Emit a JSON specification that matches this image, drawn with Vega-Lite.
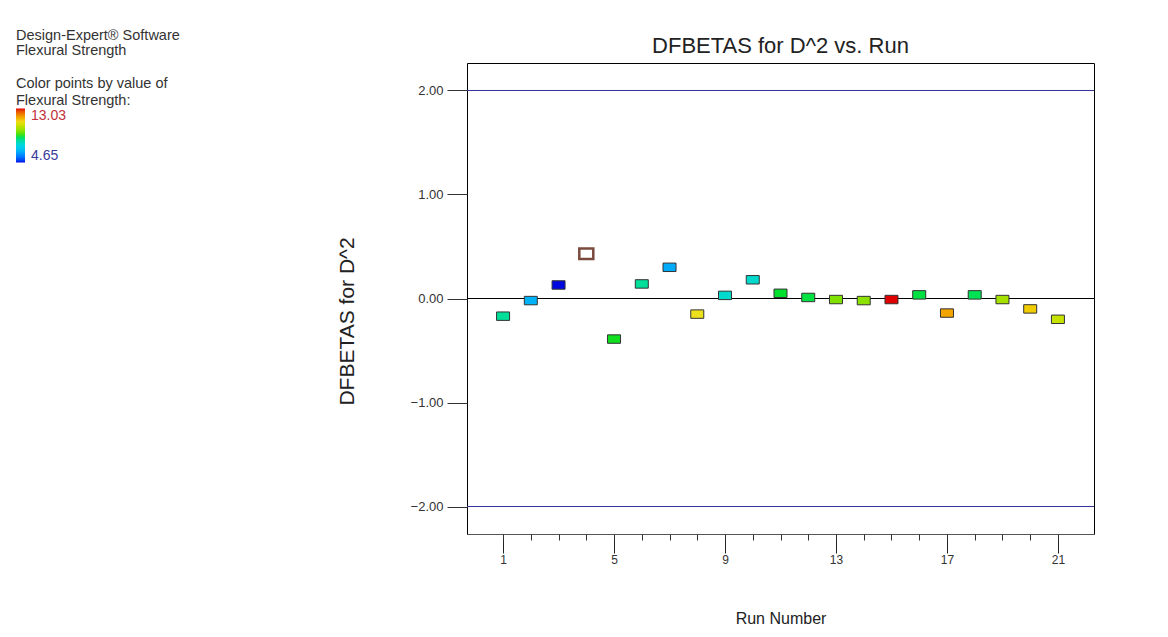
{
  "$schema": "https://vega.github.io/schema/vega-lite/v6.json",
  "width": 627,
  "height": 471,
  "autosize": {"type": "none"},
  "padding": {"left": 467, "top": 63, "right": 74, "bottom": 103},
  "background": "white",
  "title": {
    "text": "DFBETAS for D^2 vs. Run",
    "fontSize": 22,
    "fontWeight": "normal",
    "color": "#222222",
    "anchor": "middle",
    "offset": 7,
    "dy": 36
  },
  "config": {
    "font": "Liberation Sans",
    "view": {"stroke": "#000000", "strokeWidth": 1}
  },
  "datasets": {
    "runs": [
      {"Run": 1, "DFBETAS": -0.17, "Strength": 8.1},
      {"Run": 2, "DFBETAS": -0.02, "Strength": 6.4},
      {"Run": 3, "DFBETAS": 0.13, "Strength": 4.65},
      {"Run": 4, "DFBETAS": 0.43, "Strength": null},
      {"Run": 5, "DFBETAS": -0.39, "Strength": 8.84},
      {"Run": 6, "DFBETAS": 0.14, "Strength": 8.1},
      {"Run": 7, "DFBETAS": 0.30, "Strength": 6.3},
      {"Run": 8, "DFBETAS": -0.15, "Strength": 10.9},
      {"Run": 9, "DFBETAS": 0.03, "Strength": 7.6},
      {"Run": 10, "DFBETAS": 0.18, "Strength": 7.6},
      {"Run": 11, "DFBETAS": 0.05, "Strength": 8.8},
      {"Run": 12, "DFBETAS": 0.01, "Strength": 8.7},
      {"Run": 13, "DFBETAS": -0.01, "Strength": 9.5},
      {"Run": 14, "DFBETAS": -0.02, "Strength": 9.6},
      {"Run": 15, "DFBETAS": -0.01, "Strength": 13.03},
      {"Run": 16, "DFBETAS": 0.035, "Strength": 8.7},
      {"Run": 17, "DFBETAS": -0.14, "Strength": 11.7},
      {"Run": 18, "DFBETAS": 0.035, "Strength": 8.6},
      {"Run": 19, "DFBETAS": -0.01, "Strength": 9.9},
      {"Run": 20, "DFBETAS": -0.10, "Strength": 11.2},
      {"Run": 21, "DFBETAS": -0.20, "Strength": 10.3}
    ],
    "limits": [{"level": 2}, {"level": -2}],
    "baseline": [{"level": 0}]
  },
  "layer": [
    {
      "data": {"name": "limits"},
      "mark": {"type": "rule", "color": "#333399", "strokeWidth": 1},
      "encoding": {
        "y": {"field": "level", "type": "quantitative", "scale": {"domain": [-2.2644, 2.2644], "nice": false, "zero": false}},
        "strokeDash": {
          "datum": "limit",
          "type": "nominal",
          "scale": {"range": [[1, 0]]},
          "legend": {
            "orient": "none",
            "legendX": -451,
            "legendY": -34,
            "title": ["Design-Expert® Software", "Flexural Strength"],
            "titleFontSize": 14.5,
            "titleFontWeight": "normal",
            "titleColor": "#333333",
            "titleLineHeight": 15,
            "titlePadding": 0,
            "symbolOpacity": 0,
            "symbolStrokeWidth": 0,
            "labelOpacity": 0,
            "labelFontSize": 1
          }
        }
      }
    },
    {
      "data": {"name": "baseline"},
      "mark": {"type": "rule", "color": "#000000", "strokeWidth": 1},
      "encoding": {
        "y": {"field": "level", "type": "quantitative"}
      }
    },
    {
      "data": {"name": "runs"},
      "transform": [{"filter": "datum.Run != 4"}],
      "mark": {
        "type": "point",
        "filled": true,
        "opacity": 1,
        "shape": "M-1,-0.65L1,-0.65L1,0.65L-1,0.65Z",
        "size": 169,
        "stroke": "#333333",
        "strokeWidth": 1
      },
      "encoding": {
        "x": {
          "field": "Run",
          "type": "quantitative",
          "scale": {"domain": [-0.3, 22.3], "nice": false, "zero": false},
          "axis": {
            "orient": "bottom",
            "values": [1, 5, 9, 13, 17, 21],
            "grid": false,
            "domain": true,
            "domainColor": "#555555",
            "tickSize": 19,
            "tickColor": "#222222",
            "labelPadding": 1,
            "labelFontSize": 12,
            "labelColor": "#333333",
            "title": "Run Number",
            "titleFontSize": 16,
            "titleFontWeight": "normal",
            "titleColor": "#222222",
            "titlePadding": 45
          }
        },
        "y": {
          "field": "DFBETAS",
          "type": "quantitative",
          "axis": {
            "values": [-2, -1, 0, 1, 2],
            "format": ".2f",
            "grid": false,
            "domain": false,
            "tickSize": 20,
            "tickColor": "#333333",
            "labelPadding": 4,
            "labelFontSize": 13,
            "labelColor": "#333333",
            "title": "DFBETAS for D^2",
            "titleFontSize": 21,
            "titleFontWeight": "normal",
            "titleColor": "#222222",
            "titleX": -120,
            "titleY": 258,
            "titleBaseline": "middle",
            "titleAlign": "center",
            "titleAngle": -90
          }
        },
        "fill": {
          "field": "Strength",
          "type": "quantitative",
          "scale": {
            "domain": [4.65, 6.75, 8.84, 10.94, 13.03],
            "range": ["#0008e0", "#20c8f0", "#10e020", "#f0e020", "#e00000"]
          },
          "legend": {
            "orient": "none",
            "legendX": -451,
            "legendY": 14,
            "direction": "vertical",
            "gradientLength": 54,
            "gradientThickness": 9,
            "gradientStrokeWidth": 0,
            "values": [4.65, 13.03],
            "format": ".2f",
            "title": ["Color points by value of", "Flexural Strength:"],
            "titleFontSize": 14.5,
            "titleFontWeight": "normal",
            "titleColor": "#333333",
            "titleLineHeight": 17,
            "titlePadding": 0,
            "labelFontSize": 14,
            "labelOffset": 6,
            "labelColor": {"expr": "datum.value > 9 ? '#c0303a' : '#3a3a9a'"}
          }
        }
      }
    },
    {
      "data": {"name": "runs"},
      "transform": [{"filter": "datum.Run == 4"}],
      "mark": {
        "type": "point",
        "filled": true,
        "opacity": 1,
        "fill": "#ffffff",
        "shape": "M-1,-0.75L1,-0.75L1,0.75L-1,0.75Z",
        "size": 196,
        "stroke": "#7a4a3c",
        "strokeWidth": 2.5
      },
      "encoding": {
        "x": {
          "field": "Run",
          "type": "quantitative",
          "axis": {
            "orient": "bottom",
            "values": [1, 2, 3, 4, 5, 6, 7, 8, 9, 10, 11, 12, 13, 14, 15, 16, 17, 18, 19, 20, 21],
            "grid": false,
            "domain": false,
            "labels": false,
            "tickSize": 6,
            "tickColor": "#333333",
            "title": null
          }
        },
        "y": {"field": "DFBETAS", "type": "quantitative"}
      }
    }
  ],
  "resolve": {"axis": {"x": "independent"}}
}
